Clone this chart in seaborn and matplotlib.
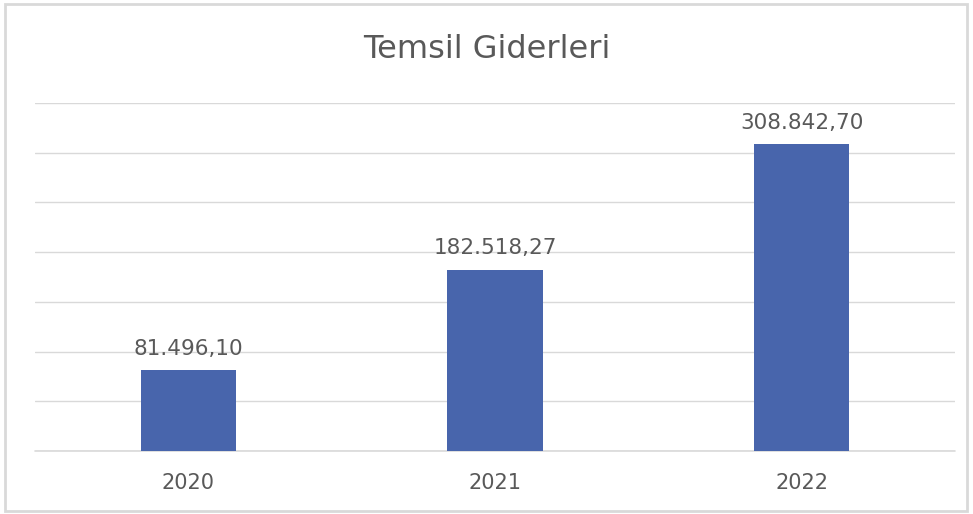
import matplotlib
matplotlib.use("Agg")
import matplotlib.pyplot as plt
import seaborn as sns
import pandas as pd
from matplotlib.patches import Rectangle

years = ["2020", "2021", "2022"]
values = [81496.10, 182518.27, 308842.70]
labels = ["81.496,10", "182.518,27", "308.842,70"]
title = "Temsil Giderleri"

sns.set_theme(style="white")
plt.rcParams['font.family'] = ['DejaVu Sans']

df = pd.DataFrame({"year": years, "value": values})

fig = plt.figure(figsize=(9.73, 5.14), dpi=100)
ax = fig.add_axes([35/973, 63/514, 920/973, 348/514])

sns.barplot(data=df, x="year", y="value", color="#4865AC", width=0.31,
            saturation=1, ax=ax, edgecolor="none")

ax.set_ylim(0, 350000)
ax.set_xlim(-0.5, 2.5)
ax.set_yticks(range(0, 350001, 50000))
ax.yaxis.grid(True, color="#D9D9D9", linewidth=1)
ax.set_axisbelow(True)
ax.axhline(0, color="#D9D9D9", linewidth=1.2, clip_on=False, zorder=0)
ax.tick_params(axis="y", left=False, labelleft=False)
ax.tick_params(axis="x", bottom=False, labelsize=15, labelcolor="#595959", pad=10)
for s in ax.spines.values():
    s.set_visible(False)
ax.set_xlabel("")
ax.set_ylabel("")

for i, (v, lab) in enumerate(zip(values, labels)):
    ax.annotate(lab, (i, v), xytext=(0, 8), textcoords="offset points",
                ha="center", va="bottom", fontsize=15.5, color="#595959")

fig.text(0.5, 1 - 50/514, title, ha="center", va="center", fontsize=23, color="#595959")

fig.patches.append(Rectangle((5/973, 3/514), 962/973, 507/514, transform=fig.transFigure,
                             fill=False, edgecolor="#D9D9D9", linewidth=2))

fig.savefig("out.png", dpi=100)
